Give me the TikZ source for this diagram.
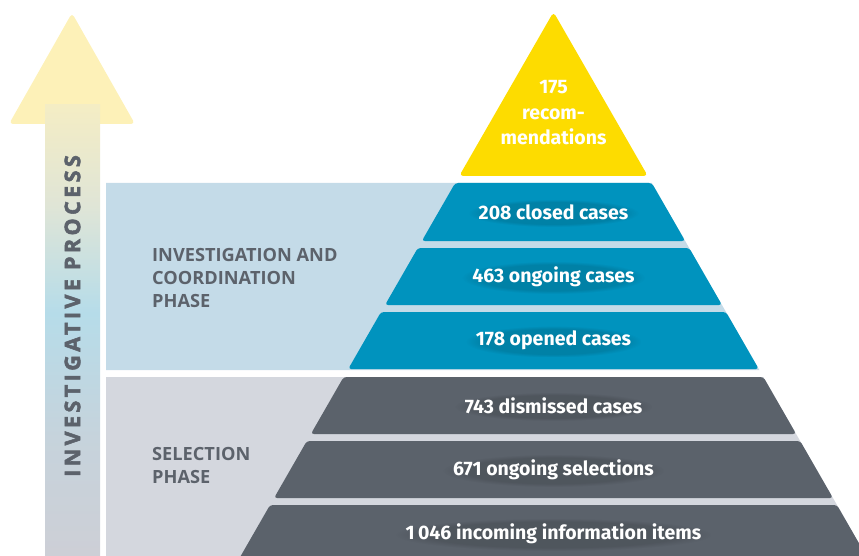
\documentclass[tikz,border=0pt]{standalone}
\usepackage{fontspec}
\setmainfont{Fira Sans}
\newfontfamily\labfont{Open Sans}
\usetikzlibrary{calc,fadings}
\definecolor{pyyellow}{HTML}{FDDC00}
\definecolor{pyblue}{HTML}{0093BE}
\definecolor{pygrey}{HTML}{5B626B}
\definecolor{bgblue}{HTML}{C4DBE8}
\definecolor{bggrey}{HTML}{D4D7DE}
\definecolor{labgrey}{HTML}{5C626B}
\definecolor{headyel}{HTML}{FDF1B8}
\definecolor{shyel}{HTML}{F4EDC4}
\definecolor{shmid}{HTML}{E0E5D6}
\definecolor{shblue}{HTML}{B6DCE9}
\definecolor{shgrey}{HTML}{CDCFD6}
\pgfdeclareverticalshading{shaftshade}{100bp}{color(0bp)=(shgrey); color(25bp)=(shgrey); color(38bp)=(shgrey!70!shblue); color(52bp)=(shblue); color(64bp)=(shmid); color(75bp)=(shyel); color(100bp)=(shyel)}
\pgfdeclarelayer{bandlayer}
\pgfdeclarelayer{shadowlayer}
\pgfsetlayers{bandlayer,shadowlayer,main}
\newcommand\pyrband[5]{%
  \pgfmathsetmacro\pyXa{553.5-0.575*(#2-12)}%
  \pgfmathsetmacro\pyXb{553.5+0.575*(#2-12)}%
  \pgfmathsetmacro\pyXc{553.5+0.575*(#3-12)}%
  \pgfmathsetmacro\pyXd{553.5-0.575*(#3-12)}%
  \pgfmathsetmacro\pyYm{(#2+#3)/2}%
  \begin{pgfonlayer}{bandlayer}
  \fill[#4, rounded corners=3pt] (\pyXa,#2) -- (\pyXb,#2) -- (\pyXc,#3) -- (\pyXd,#3) -- cycle;
  \end{pgfonlayer}
  \node[bandtext] (#1) at (553.5,\pyYm) {#5};
  \begin{pgfonlayer}{shadowlayer}
  \fill[textshadow] ($(#1.south west)+(-10,7)$) rectangle ($(#1.north east)+(10,-5)$);
  \end{pgfonlayer}
}
\begin{document}
\begin{tikzpicture}[x=1pt,y=-1pt,
  bandtext/.style={text=white, font=\fontsize{19.5}{24}\selectfont\bfseries, inner sep=0pt, align=center},
  textshadow/.style={black, opacity=0.12, path fading=circle with fuzzy edge 20 percent},
  phaselabel/.style={text=labgrey, font=\labfont\fontsize{18.2}{23}\selectfont\bfseries, inner sep=0pt, align=left, anchor=north west},
  vlabel/.style={text=labgrey, font=\labfont\fontsize{21.5}{21.5}\selectfont\bfseries\addfontfeature{LetterSpace=16,FakeBold=2.5}, inner sep=0pt, rotate=90}
]
\useasboundingbox (0,0) rectangle (859,556);
\clip (0,0) rectangle (859,556);
% background phase areas
\begin{pgfonlayer}{bandlayer}
\fill[bgblue] (106,183) -- ({553.5+0.575*(183-12)},183) -- ({553.5+0.575*(370-12)},370) -- (106,370) -- cycle;
\fill[bggrey] (106,377) -- ({553.5+0.575*(377-12)},377) -- ({553.5+0.575*(570-12)},570) -- (106,570) -- cycle;
\end{pgfonlayer}
% arrow
\fill[headyel, rounded corners=4pt] (72,13) -- (135,124) -- (9,124) -- cycle;
\shade[shading=shaftshade] (45,105) rectangle (100,556);
\node[vlabel] (vl) at (72.5,316) {INVESTIGATIVE PROCESS};
% phase labels
\node[phaselabel] (inv) at (152,248.5) {INVESTIGATION AND\\COORDINATION\\PHASE};
\node[phaselabel] (sel) at (152,447) {SELECTION\\PHASE};
% pyramid top
\begin{pgfonlayer}{bandlayer}
\fill[pyyellow, rounded corners=4pt] (553.5,12) -- ({553.5+0.575*(176-12)},176) -- ({553.5-0.575*(176-12)},176) -- cycle;
\end{pgfonlayer}
\node[bandtext, font=\fontsize{19.5}{25.5}\selectfont\bfseries] (top) at (553.5,113) {175\\recom-\\mendations};
% bands
\pyrband{b1}{183}{241}{pyblue}{208 closed cases}
\pyrband{b2}{248}{305}{pyblue}{463 ongoing cases}
\pyrband{b3}{312}{369}{pyblue}{178 opened cases}
\pyrband{b4}{377}{434}{pygrey}{743 dismissed cases}
\pyrband{b5}{441}{498}{pygrey}{671 ongoing selections}
\pyrband{b6}{505}{562}{pygrey}{1\,046 incoming information items}
\end{tikzpicture}
\end{document}
